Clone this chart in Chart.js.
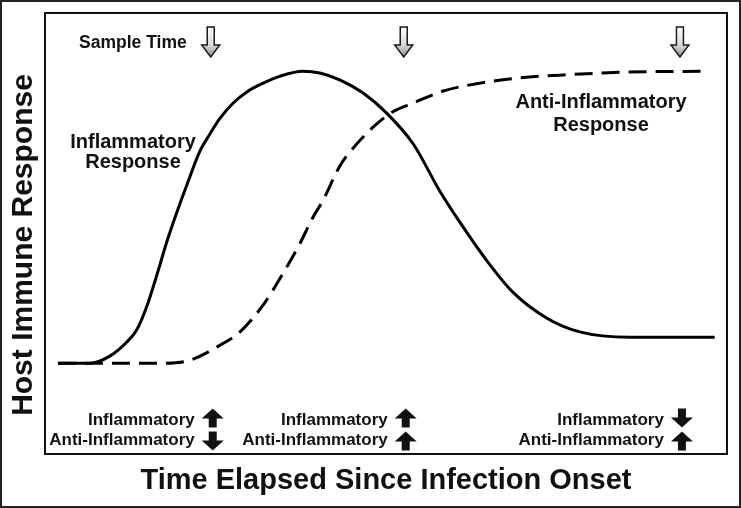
<!DOCTYPE html>
<html>
<head>
<meta charset="utf-8">
<script src="https://cdn.jsdelivr.net/npm/chart.js@4/dist/chart.umd.min.js"></script>
<style>
html,body{margin:0;padding:0;background:#fff;}
canvas{display:block;}
</style>
</head>
<body>
<canvas id="c" width="741" height="508"></canvas>
<script>
// Time (0-100 across the plot box) and response level (0-100)
const inflamTime   = [1.9, 6.6, 9.5, 12.0, 13.5, 15.0, 16.4, 17.9, 19.4, 20.8, 22.7, 24.2, 25.7, 27.6, 29.6, 32.0, 34.5, 37.8, 40.3, 43.3, 46.6, 50.1, 54.0, 57.9, 60.9, 64.8, 68.6, 73.6, 78.4, 85.8, 98.2];
const inflamValues = [20.6, 20.6, 22.2, 25.4, 28.3, 33.8, 40.6, 48.3, 55.1, 61.0, 68.6, 72.6, 76.2, 79.6, 82.1, 84.1, 85.7, 86.8, 86.4, 84.8, 81.9, 77.3, 70.3, 59.6, 52.4, 43.8, 36.7, 30.8, 27.7, 26.5, 26.5];

const antiTime   = [1.9, 17.6, 21.3, 25.7, 28.6, 32.0, 34.5, 37.4, 39.3, 40.8, 43.3, 45.2, 48.1, 51.0, 54.0, 58.4, 63.8, 69.6, 75.5, 85.3, 97.2];
const antiValues = [20.6, 20.6, 21.3, 24.7, 27.7, 33.8, 39.9, 47.8, 53.7, 57.6, 65.5, 69.4, 74.1, 77.6, 79.6, 82.3, 84.1, 85.3, 85.9, 86.6, 86.8];

const sampleTimes = [24.3, 52.6, 93.1];
const inflamDirection = ['up', 'up', 'down'];
const antiDirection   = ['down', 'up', 'up'];

const seriesNames = ['Inflammatory Response', 'Anti-Inflammatory Response'];
const xTitle = 'Time Elapsed Since Infection Onset';
const yTitle = 'Host Immune Response';

const toPoints = (xs, ys) => xs.map((x, i) => ({x: x, y: ys[i]}));

const FONT = '"Liberation Sans", Arial, sans-serif';

function hollowArrow(ctx, cx, top) {
  ctx.save();
  ctx.beginPath();
  ctx.moveTo(cx - 3.5, top);
  ctx.lineTo(cx + 3.5, top);
  ctx.lineTo(cx + 3.5, top + 18);
  ctx.lineTo(cx + 9, top + 18);
  ctx.lineTo(cx, top + 30);
  ctx.lineTo(cx - 9, top + 18);
  ctx.lineTo(cx - 3.5, top + 18);
  ctx.closePath();
  const g = ctx.createLinearGradient(0, top, 0, top + 30);
  g.addColorStop(0, '#ffffff');
  g.addColorStop(0.6, '#d8d8d8');
  g.addColorStop(1, '#8c8c8c');
  ctx.fillStyle = g;
  ctx.fill();
  ctx.lineWidth = 1.5;
  ctx.strokeStyle = '#1a1a1a';
  ctx.lineJoin = 'miter';
  ctx.stroke();
  ctx.restore();
}

function solidArrow(ctx, cx, cy, dir) {
  const s = dir === 'up' ? -1 : 1;
  const tip = cy + s * 9.5;
  const base = cy - s * 9.5;
  const headBase = tip - s * 10;
  ctx.save();
  ctx.beginPath();
  ctx.moveTo(cx, tip);
  ctx.lineTo(cx + 11, headBase);
  ctx.lineTo(cx + 4, headBase);
  ctx.lineTo(cx + 4, base);
  ctx.lineTo(cx - 4, base);
  ctx.lineTo(cx - 4, headBase);
  ctx.lineTo(cx - 11, headBase);
  ctx.closePath();
  ctx.fillStyle = '#111';
  ctx.fill();
  ctx.restore();
}

const decorPlugin = {
  id: 'decor',
  beforeDraw(chart) {
    const ctx = chart.ctx;
    ctx.save();
    ctx.fillStyle = '#fff';
    ctx.fillRect(0, 0, chart.width, chart.height);
    ctx.restore();
  },
  afterDraw(chart) {
    const ctx = chart.ctx;
    const a = chart.chartArea;
    const xs = chart.scales.x;
    ctx.save();
    ctx.strokeStyle = '#222';
    ctx.lineWidth = 2;
    ctx.strokeRect(1, 1, chart.width - 2, chart.height - 2);
    ctx.strokeStyle = '#111';
    ctx.lineWidth = 2;
    ctx.strokeRect(a.left, a.top, a.right - a.left, a.bottom - a.top);

    ctx.fillStyle = '#111';
    ctx.font = 'bold 29px ' + FONT;
    ctx.textAlign = 'center';
    ctx.textBaseline = 'alphabetic';
    ctx.fillText(xTitle, (a.left + a.right) / 2, 489);
    ctx.save();
    ctx.translate(32, 245);
    ctx.rotate(-Math.PI / 2);
    ctx.font = 'bold 30px ' + FONT;
    ctx.fillText(yTitle, 0, 0);
    ctx.restore();

    ctx.font = 'bold 17.5px ' + FONT;
    ctx.textAlign = 'right';
    ctx.fillText('Sample Time', xs.getPixelForValue(sampleTimes[0]) - 24, 48);
    sampleTimes.forEach(t => hollowArrow(ctx, xs.getPixelForValue(t), 27));

    ctx.textAlign = 'center';
    ctx.font = 'bold 20px ' + FONT;
    const w1 = seriesNames[0].split(' ');
    ctx.fillText(w1[0], 133, 148);
    ctx.fillText(w1[1], 133, 168);
    const w2 = seriesNames[1].split(' ');
    ctx.fillText(w2[0], 601, 108);
    ctx.fillText(w2[1], 601, 131);

    ctx.font = 'bold 17px ' + FONT;
    ctx.textAlign = 'right';
    sampleTimes.forEach((t, i) => {
      const px = xs.getPixelForValue(t);
      ctx.fillText('Inflammatory', px - 16, 425);
      ctx.fillText('Anti-Inflammatory', px - 16, 445);
      solidArrow(ctx, px + 2, 418, inflamDirection[i]);
      solidArrow(ctx, px + 2, 441, antiDirection[i]);
    });
    ctx.restore();
  }
};

new Chart(document.getElementById('c'), {
  type: 'line',
  data: {
    datasets: [
      {
        label: seriesNames[0],
        data: toPoints(inflamTime, inflamValues),
        borderColor: '#000',
        borderWidth: 3,
        pointRadius: 0,
        fill: false,
        cubicInterpolationMode: 'monotone'
      },
      {
        label: seriesNames[1],
        data: toPoints(antiTime, antiValues),
        borderColor: '#000',
        borderWidth: 3,
        borderDash: [18, 9],
        pointRadius: 0,
        fill: false,
        cubicInterpolationMode: 'monotone'
      }
    ]
  },
  options: {
    responsive: false,
    animation: false,
    layout: { padding: { left: 45, right: 14, top: 13, bottom: 54 } },
    plugins: { legend: { display: false }, tooltip: { enabled: false } },
    scales: {
      x: { type: 'linear', min: 0, max: 100, display: false },
      y: { type: 'linear', min: 0, max: 100, display: false }
    }
  },
  plugins: [decorPlugin]
});
</script>
</body>
</html>
